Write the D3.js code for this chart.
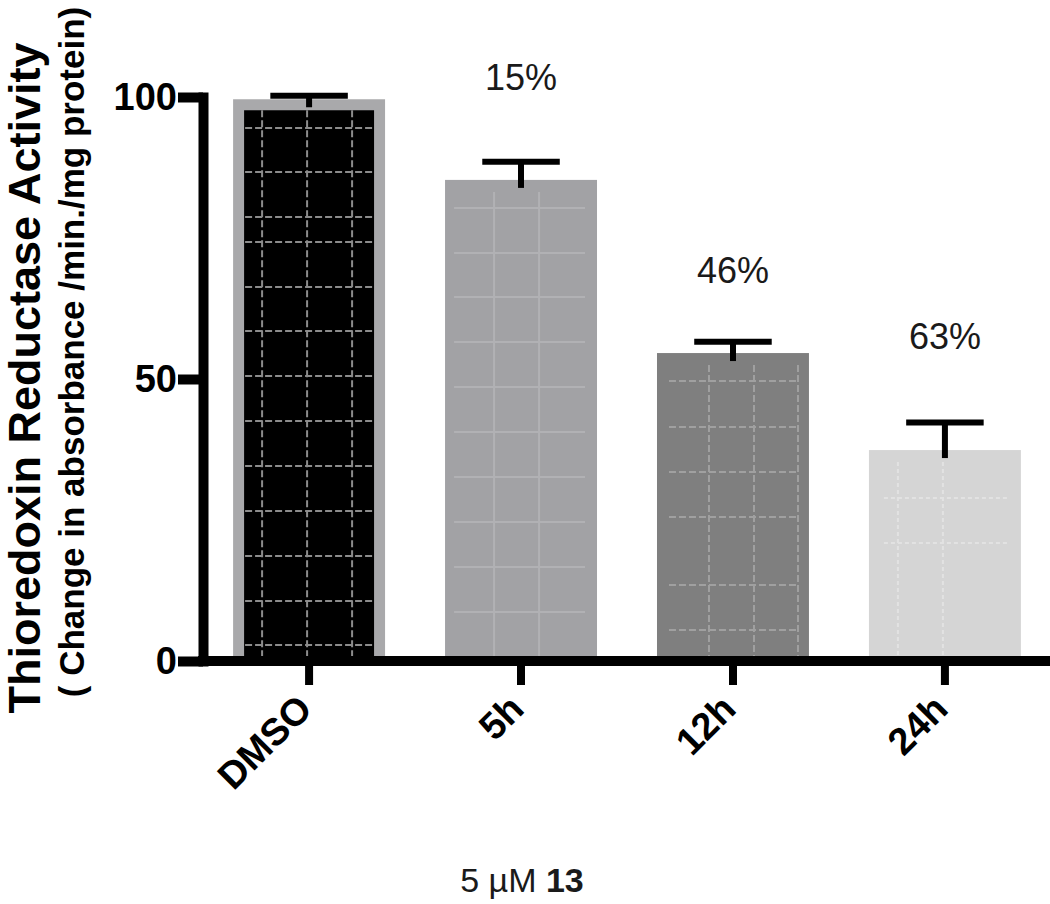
<!DOCTYPE html>
<html>
<head>
<meta charset="utf-8">
<script src="https://cdn.jsdelivr.net/npm/d3@7"></script>
<style>
  html, body { margin: 0; padding: 0; background: #fff; }
  svg { display: block; font-family: "Liberation Sans", Arial, Helvetica, sans-serif; }
</style>
</head>
<body>
<svg id="chart" width="1050" height="904"></svg>
<script>
// ---- data ----
const categories = ["DMSO", "5h", "12h", "24h"];
const values = [99.6, 85.3, 54.6, 37.4];
const errors = [0.6, 3.2, 2.0, 4.9];
const pctLabels = ["", "15%", "46%", "63%"];
const pctLabelLevel = [0, 101.2, 67.0, 55.3];   // label baseline, in axis units
const yTicks = [0, 50, 100];

// ---- styles ----
const barFill = ["#000000", "#a2a2a5", "#7f7f7f", "#d5d5d5"];
const gridColor = ["#8c8c8c", "#b1b1b4", "#a0a0a0", "#e2e2e2"];
const gridDash = ["7,3", null, "7,3", "4,3"];
const vGridOffsets = [[29, 74, 119], [49, 94], [52, 97, 141], [29, 74]];
const hGridInset = [[12, 12], [9, 12], [12, 10], [15, 12]];
const hGridPx = [
  [128, 172, 217, 242, 287, 331, 376, 421, 466, 511, 556, 601, 645],
  [208, 253, 297, 342, 387, 432, 477, 522, 567, 612],
  [381, 427, 472, 517, 585, 630],
  [498, 543]
];

const svg = d3.select("#chart");
const x = d3.scaleBand().domain(categories).range([203, 1051]).paddingInner(0.283).paddingOuter(0.142);
const y = d3.scaleLinear().domain([0, 100]).range([661, 97]);
const bw = x.bandwidth();

// bars
const bars = svg.append("g");
categories.forEach((c, i) => {
  const x0 = x(c), yTop = y(values[i]), yBot = y(0);
  const g = bars.append("g");
  if (i === 0) {
    g.append("rect").attr("x", x0).attr("y", yTop).attr("width", bw).attr("height", yBot - yTop).attr("fill", "#a9a9ab");
    g.append("rect").attr("x", x0 + 11).attr("y", yTop + 11).attr("width", bw - 22).attr("height", yBot - yTop - 11).attr("fill", barFill[i]);
  } else {
    g.append("rect").attr("x", x0).attr("y", yTop).attr("width", bw).attr("height", yBot - yTop).attr("fill", barFill[i]);
  }
  const innerTop = i === 0 ? yTop + 11 : yTop + 12;
  vGridOffsets[i].forEach(o => {
    g.append("line").attr("x1", x0 + o).attr("x2", x0 + o).attr("y1", innerTop).attr("y2", yBot)
      .attr("stroke", gridColor[i]).attr("stroke-width", 2).attr("stroke-dasharray", gridDash[i]);
  });
  hGridPx[i].forEach(py => {
    if (py <= innerTop || py >= yBot) return;
    g.append("line").attr("x1", x0 + hGridInset[i][0]).attr("x2", x0 + bw - hGridInset[i][1]).attr("y1", py).attr("y2", py)
      .attr("stroke", gridColor[i]).attr("stroke-width", 2).attr("stroke-dasharray", gridDash[i]);
  });
});

// error bars
const eb = svg.append("g").attr("stroke", "#000").attr("stroke-width", 6);
categories.forEach((c, i) => {
  const cx = x(c) + bw / 2;
  const yTop = y(values[i] + errors[i]);
  eb.append("line").attr("x1", cx).attr("x2", cx).attr("y1", yTop).attr("y2", y(values[i]) + 8);
  eb.append("line").attr("x1", cx - bw * 0.255).attr("x2", cx + bw * 0.255).attr("y1", yTop).attr("y2", yTop);
});

// percent labels
svg.append("g").selectAll("text").data(categories).join("text")
  .attr("x", c => x(c) + bw / 2)
  .attr("y", (c, i) => y(pctLabelLevel[i]))
  .attr("text-anchor", "middle")
  .attr("font-size", 36).attr("fill", "#1a1a1a")
  .text((c, i) => pctLabels[i]);

// y axis
const yAxis = svg.append("g").attr("transform", "translate(203,0)")
  .call(d3.axisLeft(y).tickValues(yTicks).tickSize(25).tickSizeOuter(0).tickPadding(1).tickFormat(d3.format("d")));
yAxis.select(".domain").attr("stroke", "#000").attr("stroke-width", 10).attr("stroke-linecap", "square");
yAxis.selectAll(".tick line").attr("stroke", "#000").attr("stroke-width", 10);
yAxis.selectAll(".tick text").attr("font-size", 38).attr("font-weight", "bold").attr("fill", "#000")
  .attr("font-family", "'Liberation Sans', Arial, sans-serif");

// x axis
const xAxis = svg.append("g").attr("transform", "translate(0,661)")
  .call(d3.axisBottom(x).tickSize(24).tickSizeOuter(0).tickFormat(""));
xAxis.select(".domain").attr("d", "M203,0H1060").attr("stroke", "#000").attr("stroke-width", 10).attr("stroke-linecap", "square");
xAxis.selectAll(".tick line").attr("stroke", "#000").attr("stroke-width", 8);

// rotated category labels
svg.append("g").selectAll("text").data(categories).join("text")
  .attr("transform", c => `translate(${x(c) + bw / 2 + 5},${711}) rotate(-45)`)
  .attr("text-anchor", "end")
  .attr("font-size", 38).attr("font-weight", "bold").attr("fill", "#000")
  .text(c => c);

// y titles
svg.append("text")
  .attr("transform", "translate(40,378) rotate(-90)")
  .attr("text-anchor", "middle").attr("font-size", 45).attr("font-weight", "bold").attr("fill", "#000")
  .text("Thioredoxin Reductase Activity");
svg.append("text")
  .attr("transform", "translate(84,352) rotate(-90)")
  .attr("text-anchor", "middle").attr("font-size", 35).attr("font-weight", "bold").attr("fill", "#000")
  .text("( Change in absorbance /min./mg protein)");

// x title
const xt = svg.append("text").attr("x", 522).attr("y", 892).attr("text-anchor", "middle")
  .attr("font-size", 34).attr("fill", "#1a1a1a");
xt.append("tspan").text("5 \u00b5M ");
xt.append("tspan").attr("font-weight", "bold").text("13");
</script>
</body>
</html>
